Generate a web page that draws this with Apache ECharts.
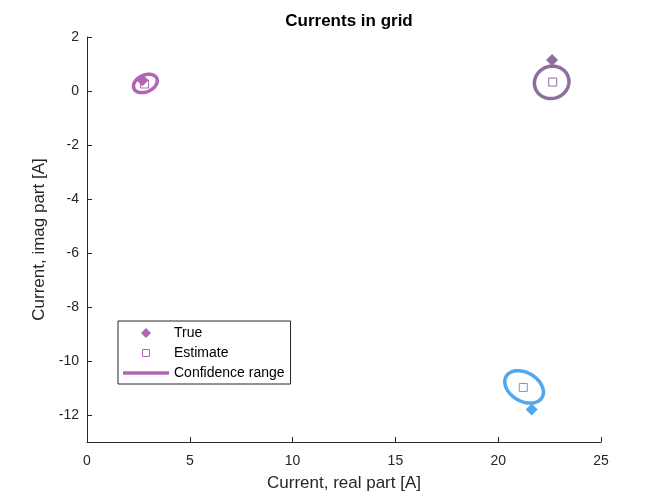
<!DOCTYPE html>
<html lang="en">

<head>
    <meta charset="UTF-8">
    <title>Currents in grid</title>
    <style>
        html,
        body {
            height: 100%;
            width: 100%;
            margin: 0;
            padding: 0;
            background: #fff;
        }
    </style>
</head>

<body>
    <div id="main" style="width: 664px;height:498px;"></div>
    <script src="https://cdn.jsdelivr.net/npm/echarts@6/dist/echarts.min.js"></script>
    <script type="text/javascript">
        // true currents (real, imag)
        var trueRe = [2.70, 22.62, 21.63];
        var trueIm = [0.40, 1.15, -11.80];
        // estimated currents
        var estRe = [2.80, 22.65, 21.22];
        var estIm = [0.26, 0.33, -10.98];
        // confidence ellipses: centre, half extents, correlation
        var ellRe = [2.84, 22.60, 21.26];
        var ellIm = [0.28, 0.32, -10.96];
        var ellRx = [0.58, 0.84, 0.94];
        var ellRy = [0.34, 0.60, 0.60];
        var ellRho = [0.30, 0.05, -0.32];
        var yTicks = [-12, -10, -8, -6, -4, -2, 0, 2];

        var colors = ['#b265b3', '#8e6e9f', '#4fa7ef'];
        var axisColor = '#262626';
        var font = 'Liberation Sans, Arial, sans-serif';

        var trueData = [], estData = [], ellData = [];
        for (var i = 0; i < trueRe.length; i++) {
            trueData.push({ value: [trueRe[i], trueIm[i]], itemStyle: { color: colors[i] } });
            estData.push({ value: [estRe[i], estIm[i]], itemStyle: { borderColor: colors[i] } });
            ellData.push([ellRe[i], ellIm[i], ellRx[i], ellRy[i], ellRho[i]]);
        }

        var myChart = echarts.init(document.getElementById('main'));
        var option = {
            animation: false,
            title: {
                text: 'Currents in grid',
                left: 344,
                textAlign: 'center',
                top: 8,
                textStyle: { fontFamily: font, fontSize: 17, fontWeight: 'bold', color: '#000' }
            },
            legend: {
                orient: 'vertical',
                left: 118,
                top: 321,
                padding: [5, 6, 4, 5],
                itemWidth: 46,
                itemHeight: 10,
                itemGap: 6,
                borderColor: axisColor,
                borderWidth: 1,
                backgroundColor: '#fff',
                textStyle: { fontFamily: font, fontSize: 14, color: '#000' },
                data: [
                    { name: 'True', icon: 'path://M5,0L10,5L5,10L0,5Z', itemStyle: { color: colors[0] } },
                    { name: 'Estimate', icon: 'path://M0,0M10,10M1.5,1.5H8.5V8.5H1.5Z', itemStyle: { color: '#fff', borderColor: colors[0], borderWidth: 1 } },
                    { name: 'Confidence range', icon: 'path://M0,0H46V3.5H0Z', itemStyle: { color: colors[0] } }
                ]
            },
            grid: { left: 87, right: 63, top: 37, bottom: 56 },
            xAxis: {
                type: 'value',
                min: 0,
                max: 25,
                interval: 5,
                name: 'Current, real part [A]',
                nameLocation: 'middle',
                nameGap: 33,
                nameTextStyle: { fontFamily: font, fontSize: 17, color: axisColor },
                axisLine: { onZero: false, lineStyle: { color: axisColor } },
                axisTick: { inside: true, length: 5, lineStyle: { color: axisColor } },
                axisLabel: { margin: 12, fontFamily: font, fontSize: 14, color: axisColor },
                splitLine: { show: false }
            },
            yAxis: {
                type: 'value',
                min: -13,
                max: 2,
                name: 'Current, imag part [A]',
                nameLocation: 'middle',
                nameGap: 35,
                nameTextStyle: { fontFamily: font, fontSize: 17, color: axisColor },
                axisLine: { show: true, onZero: false, lineStyle: { color: axisColor } },
                axisTick: { show: true, inside: true, length: 5, customValues: yTicks, lineStyle: { color: axisColor } },
                axisLabel: { margin: 8, customValues: yTicks, fontFamily: font, fontSize: 14, color: axisColor },
                splitLine: { show: false }
            },
            series: [{
                name: 'Confidence range',
                type: 'custom',
                z: 1,
                itemStyle: { color: colors[0] },
                renderItem: function (params, api) {
                    var cx = api.value(0), cy = api.value(1);
                    var rx = api.value(2), ry = api.value(3), rho = api.value(4);
                    var pts = [];
                    for (var k = 0; k <= 90; k++) {
                        var t = k / 90 * 2 * Math.PI;
                        pts.push(api.coord([cx + rx * Math.cos(t),
                            cy + ry * (rho * Math.cos(t) + Math.sqrt(1 - rho * rho) * Math.sin(t))]));
                    }
                    return {
                        type: 'polygon',
                        shape: { points: pts },
                        style: { fill: 'none', stroke: colors[params.dataIndex], lineWidth: 3.5 }
                    };
                },
                data: ellData
            }, {
                name: 'True',
                type: 'scatter',
                z: 3,
                symbol: 'diamond',
                symbolSize: 12,
                itemStyle: { color: colors[0], opacity: 1 },
                data: trueData
            }, {
                name: 'Estimate',
                type: 'scatter',
                z: 4,
                symbol: 'rect',
                symbolSize: 8,
                itemStyle: { color: 'rgba(255,255,255,0)', borderColor: colors[0], borderWidth: 1, opacity: 1 },
                data: estData
            }]
        };
        myChart.setOption(option);
    </script>
</body>

</html>
